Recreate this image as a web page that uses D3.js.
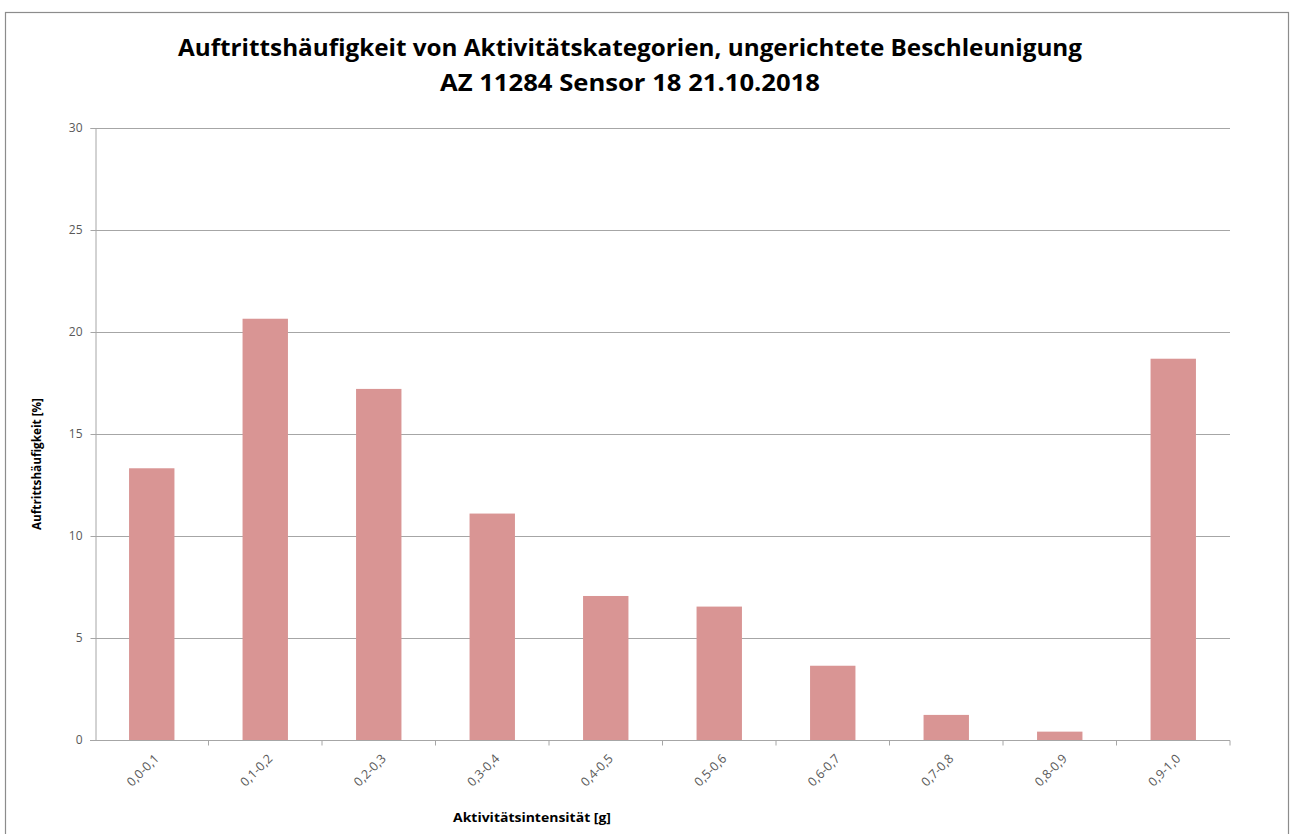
<!DOCTYPE html>
<html>
<head>
<meta charset="utf-8">
<script src="https://cdn.jsdelivr.net/npm/d3@7"></script>
<style>
  html, body { margin: 0; padding: 0; background: #fff; }
  svg { display: block; }
</style>
</head>
<body>
<svg id="chart" width="1293" height="834"></svg>
<script>
// Activity intensity classes and their share of occurrence (%)
const categories = ["0,0-0,1", "0,1-0,2", "0,2-0,3", "0,3-0,4", "0,4-0,5",
                    "0,5-0,6", "0,6-0,7", "0,7-0,8", "0,8-0,9", "0,9-1,0"];
const values = [13.32, 20.65, 17.21, 11.10, 7.06, 6.54, 3.64, 1.23, 0.41, 18.69];
const yTicks = [0, 5, 10, 15, 20, 25, 30];
const titleLines = ["Auftrittshäufigkeit von Aktivitätskategorien, ungerichtete Beschleunigung",
                    "AZ 11284 Sensor 18 21.10.2018"];
const xTitle = "Aktivitätsintensität [g]";
const yTitle = "Auftrittshäufigkeit [%]";

const svg = d3.select("#chart");
const font = "'Open Sans', 'Noto Sans', sans-serif";

// chart frame
svg.append("rect")
  .attr("x", 5.5).attr("y", 12.5)
  .attr("width", 1283).attr("height", 840)
  .attr("fill", "#fff").attr("stroke", "#8c8c8c").attr("stroke-width", 1.2);

const plot = { left: 95, right: 1230, top: 128, bottom: 740 };

const x = d3.scaleBand()
  .domain(categories)
  .range([plot.left, plot.right])
  .paddingInner(0.6).paddingOuter(0.3);

const xOuter = d3.scaleBand().domain(categories).range([plot.left, plot.right]);

const y = d3.scaleLinear().domain([0, 30]).range([plot.bottom, plot.top]);

// horizontal gridlines
svg.append("g")
  .selectAll("line")
  .data(yTicks.filter(t => t > 0))
  .join("line")
  .attr("x1", plot.left).attr("x2", plot.right)
  .attr("y1", d => Math.round(y(d)) + 0.5).attr("y2", d => Math.round(y(d)) + 0.5)
  .attr("stroke", "#a6a6a6").attr("stroke-width", 1);

// bars
svg.append("g")
  .selectAll("rect")
  .data(values)
  .join("rect")
  .attr("x", (d, i) => x(categories[i]))
  .attr("width", x.bandwidth())
  .attr("y", d => y(d))
  .attr("height", d => y(0) - y(d))
  .attr("fill", "#d99594");

// y axis
const yAxis = svg.append("g")
  .attr("transform", `translate(${plot.left + 0.5},0)`)
  .call(d3.axisLeft(y).tickValues(yTicks).tickSize(5).tickPadding(8));
yAxis.select(".domain").attr("stroke", "#a6a6a6");
yAxis.selectAll(".tick line").attr("stroke", "#a6a6a6");
yAxis.selectAll(".tick text")
  .attr("font-family", font).attr("font-size", 12).attr("fill", "#595959");

// x axis with ticks between categories
const xAxisG = svg.append("g")
  .attr("transform", `translate(0,${plot.bottom + 0.5})`);
xAxisG.append("line")
  .attr("x1", plot.left - 5).attr("x2", plot.right)
  .attr("stroke", "#a6a6a6");
xAxisG.selectAll("line.tick")
  .data(categories)
  .join("line")
  .attr("class", "tick")
  .attr("x1", d => xOuter(d) + xOuter.bandwidth()).attr("x2", d => xOuter(d) + xOuter.bandwidth())
  .attr("y1", 0).attr("y2", 5)
  .attr("stroke", "#a6a6a6");
xAxisG.selectAll("text")
  .data(categories)
  .join("text")
  .attr("transform", d => `translate(${xOuter(d) + xOuter.bandwidth() / 2 + 8},${19}) rotate(-45)`)
  .attr("text-anchor", "end")
  .attr("font-family", font).attr("font-size", 12.5).attr("fill", "#595959")
  .text(d => d);

// titles
svg.append("text")
  .attr("x", 630).attr("y", 56)
  .attr("text-anchor", "middle")
  .attr("font-family", font).attr("font-weight", "bold").attr("font-size", 24)
  .attr("textLength", 904).attr("lengthAdjust", "spacingAndGlyphs")
  .attr("fill", "#000")
  .text(titleLines[0]);
svg.append("text")
  .attr("x", 630).attr("y", 91)
  .attr("text-anchor", "middle")
  .attr("font-family", font).attr("font-weight", "bold").attr("font-size", 24)
  .attr("textLength", 380).attr("lengthAdjust", "spacingAndGlyphs")
  .attr("fill", "#000")
  .text(titleLines[1]);

// axis titles
svg.append("text")
  .attr("x", 532).attr("y", 822)
  .attr("text-anchor", "middle")
  .attr("font-family", font).attr("font-weight", "bold").attr("font-size", 11.5)
  .attr("textLength", 158).attr("lengthAdjust", "spacingAndGlyphs")
  .attr("fill", "#000")
  .text(xTitle);
svg.append("text")
  .attr("transform", "translate(41,464) rotate(-90)")
  .attr("text-anchor", "middle")
  .attr("font-family", font).attr("font-weight", "bold").attr("font-size", 11.5)
  .attr("textLength", 132).attr("lengthAdjust", "spacingAndGlyphs")
  .attr("fill", "#000")
  .text(yTitle);
</script>
</body>
</html>
